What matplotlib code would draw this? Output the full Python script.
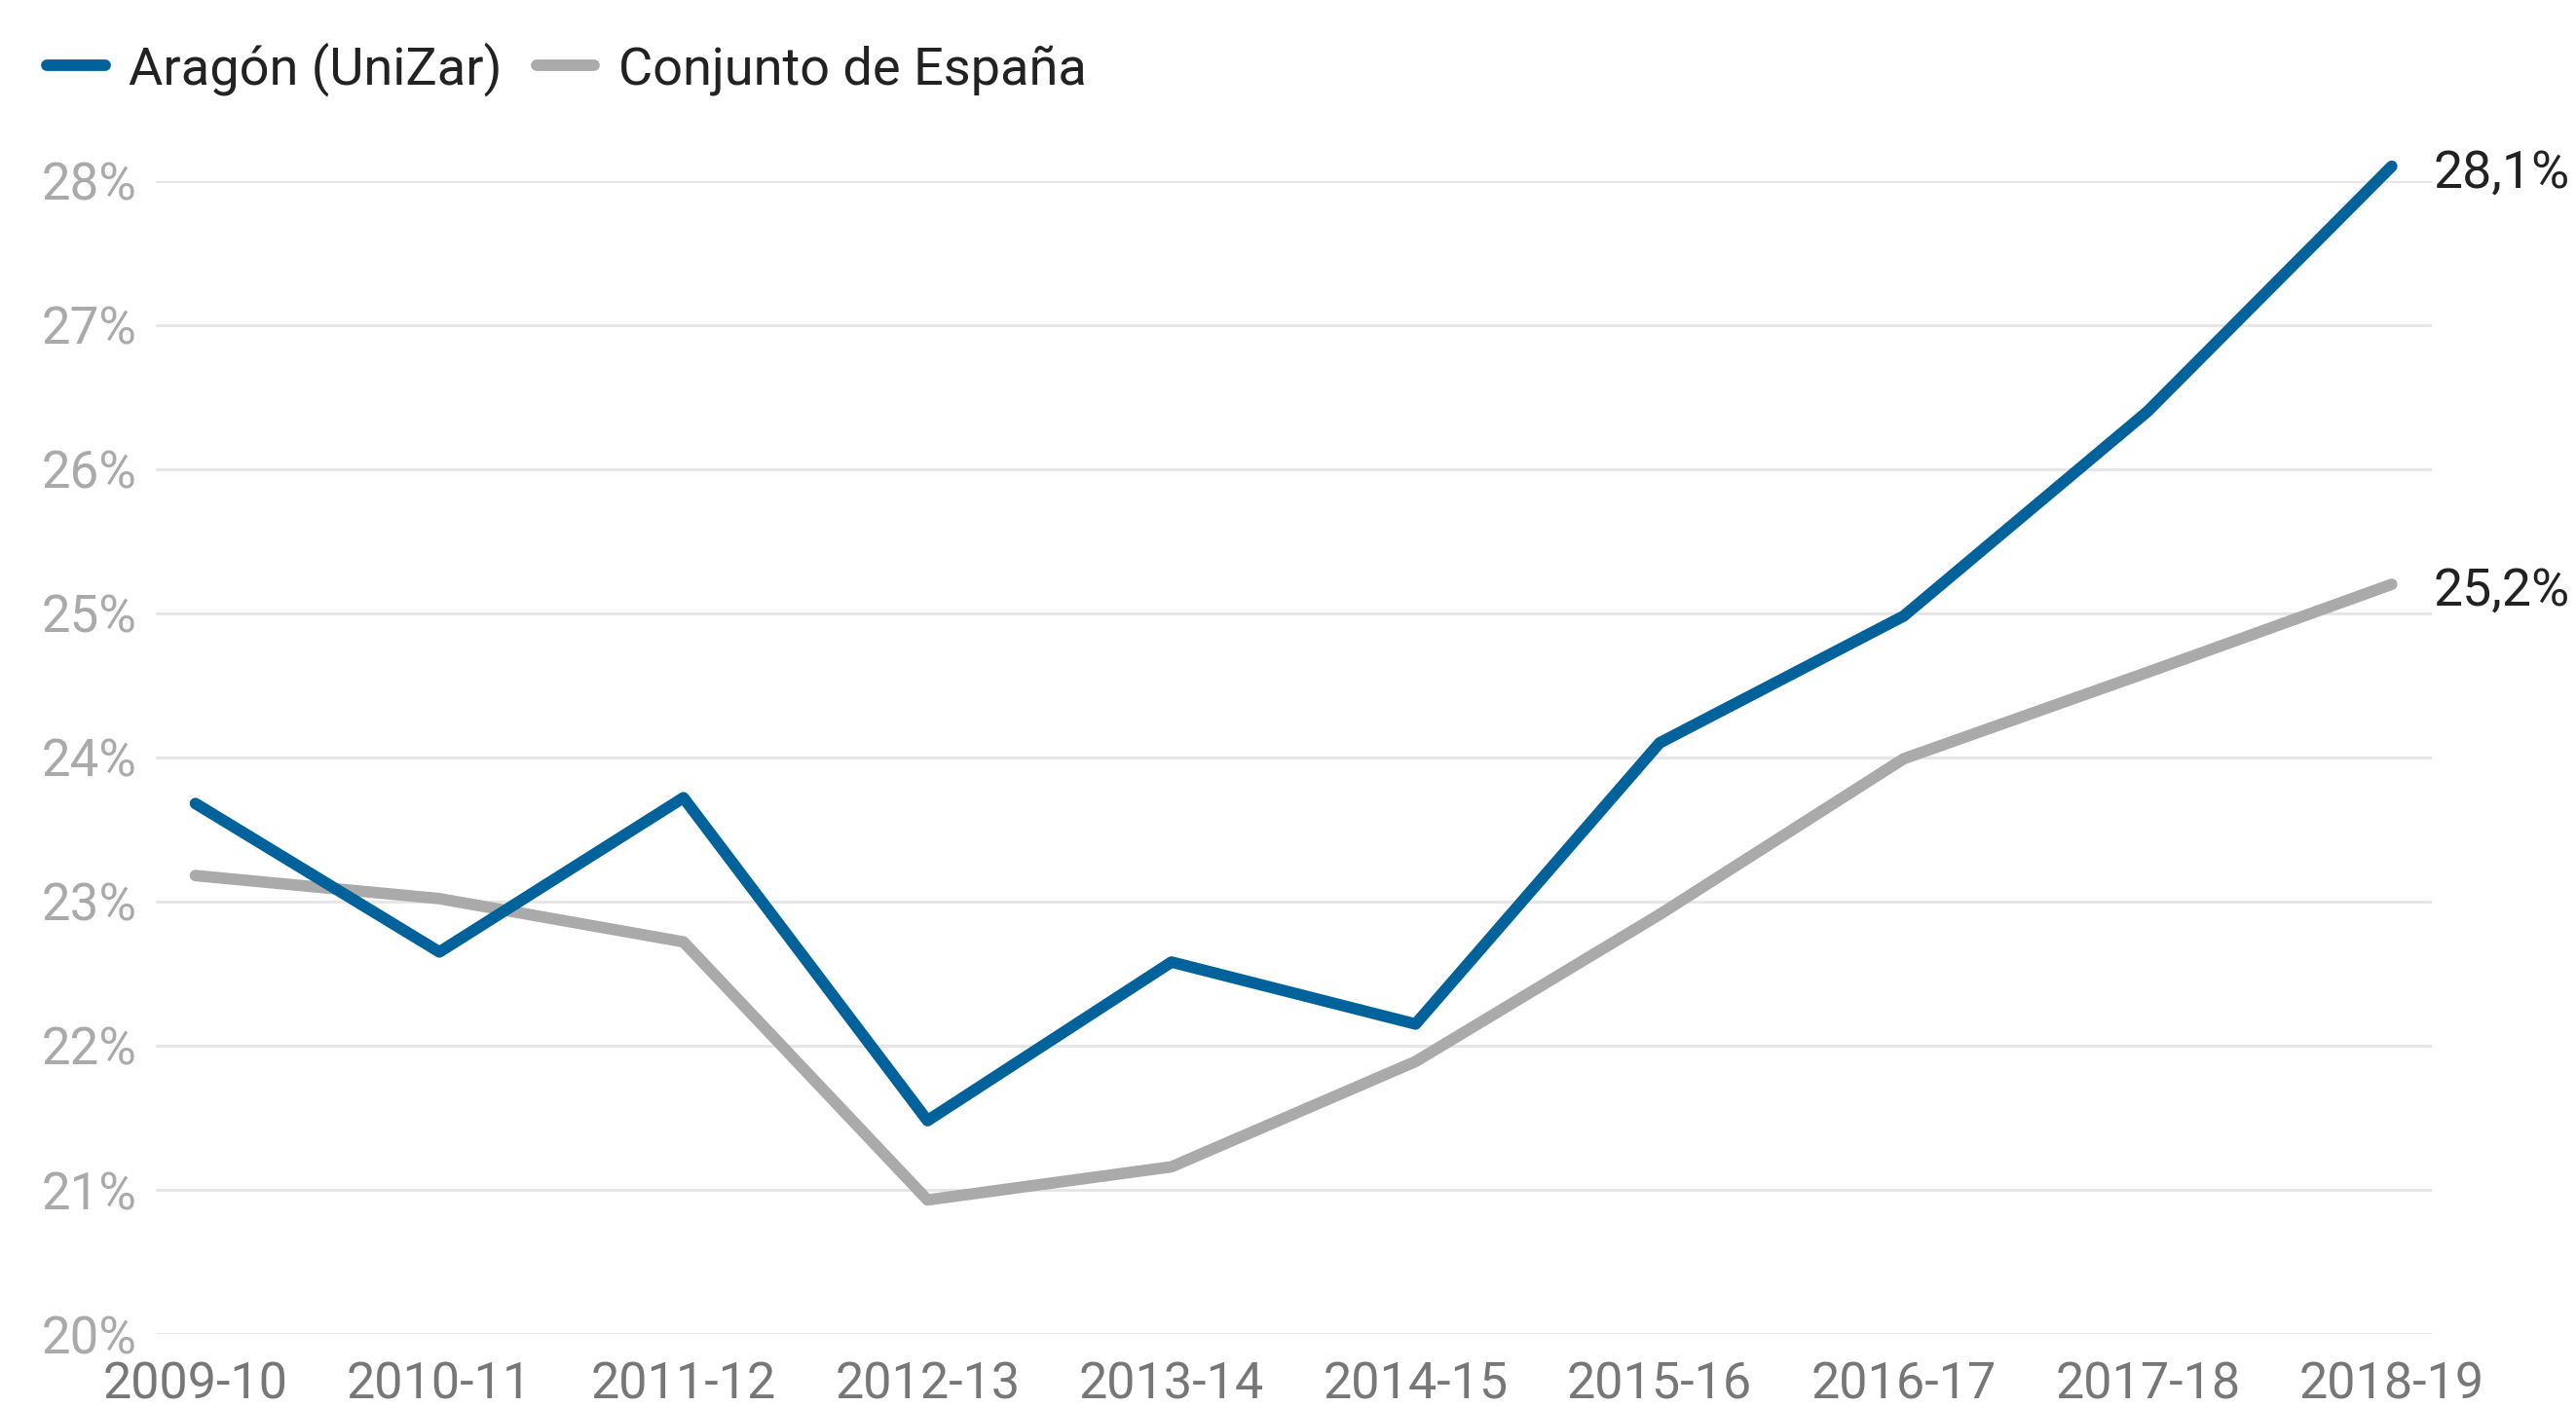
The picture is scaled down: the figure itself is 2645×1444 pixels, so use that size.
import matplotlib
matplotlib.use("Agg")
import matplotlib.pyplot as plt

plt.rcParams['font.family'] = ['Roboto', 'DejaVu Sans']

years = ["2009-10", "2010-11", "2011-12", "2012-13", "2013-14",
         "2014-15", "2015-16", "2016-17", "2017-18", "2018-19"]
aragon = [23.68, 22.65, 23.72, 21.48, 22.58, 22.15, 24.10, 24.98, 26.40, 28.1]
espana = [23.18, 23.02, 22.72, 20.93, 21.16, 21.89, 22.91, 23.99, 24.59, 25.2]
yticks = [20, 21, 22, 23, 24, 25, 26, 27, 28]
series_names = ["Aragón (UniZar)", "Conjunto de España"]
end_labels = ["28,1%", "25,2%"]

BLUE = "#00629b"
GRAY = "#aaaaaa"

fig = plt.figure(figsize=(26.45, 14.44), dpi=100)
ax = fig.add_axes([0.0605, 0.0512, 0.8835, 0.8203])

x = list(range(len(years)))
ax.plot(x, espana, color=GRAY, lw=8.5, solid_capstyle='round', solid_joinstyle='round',
        clip_on=False, zorder=3, label=series_names[1])
ax.plot(x, aragon, color=BLUE, lw=8.5, solid_capstyle='round', solid_joinstyle='round',
        clip_on=False, zorder=4, label=series_names[0])

ax.set_xlim(-0.162, 9.164)
ax.set_ylim(20, 28)
ax.set_yticks(yticks)
ax.set_yticklabels([f"{v}%" for v in yticks])
ax.set_xticks(x)
ax.set_xticklabels(years)

ax.grid(axis='y', color='#e6e6e6', lw=2.2, zorder=0)
ax.grid(axis='x', visible=False)
for s in ax.spines.values():
    s.set_visible(False)
ax.tick_params(axis='both', length=0)
ax.tick_params(axis='y', labelsize=38, labelcolor='#aaaaaa', pad=14)
ax.tick_params(axis='x', labelsize=37.5, labelcolor='#777777', pad=20)

for vals, lab in zip([aragon, espana], end_labels):
    ax.annotate(lab, xy=(x[-1], vals[-1]), xytext=(31, -5), textcoords='offset points',
                ha='left', va='center', fontsize=38.5, color='#222222', annotation_clip=False)

h, l = ax.get_legend_handles_labels()
leg = fig.legend([h[1], h[0]], [l[1], l[0]], loc='center left',
                 bbox_to_anchor=(0.01, 0.951), ncol=2, frameon=False,
                 fontsize=39, handlelength=1.1, handletextpad=0.45,
                 columnspacing=0.65, borderaxespad=0)
for t in leg.get_texts():
    t.set_color('#222222')

fig.savefig("out.png", dpi=100, facecolor='white')
